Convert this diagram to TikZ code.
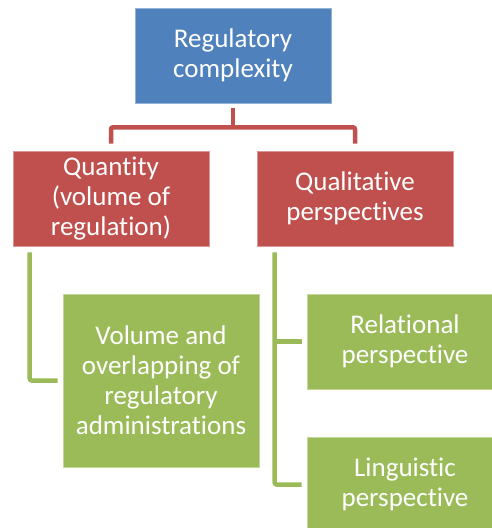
\documentclass[tikz,border=0pt]{standalone}
\usepackage{fontspec}
\setmainfont{Carlito}[Ligatures=NoCommon]
\usetikzlibrary{calc}
\definecolor{cblue}{HTML}{4F81BD}
\definecolor{cred}{HTML}{C0504D}
\definecolor{cgreen}{HTML}{9BBB59}
\tikzset{
  box/.style={rectangle, minimum width=196pt, text=white, align=center, inner sep=0pt,
    font=\fontsize{27pt}{30pt}\selectfont},
  bluebox/.style={box, fill=cblue, draw=cblue!60!white, line width=0.6pt, minimum height=95pt},
  redbox/.style={box, fill=cred, draw=cred!60!white, line width=0.6pt, minimum height=95pt},
  greenbox/.style={box, fill=cgreen, draw=cgreen!60!white, line width=0.6pt},
  redline/.style={draw=cred, line width=4.5pt, rounded corners=2pt},
  greenline/.style={draw=cgreen, line width=4.5pt, rounded corners=2pt},
}
\begin{document}
\begin{tikzpicture}[x=1pt,y=1pt]
\useasboundingbox (0,0) rectangle (492,-528);
\node[bluebox] (top) at (233,-55.5) {Regulatory\\complexity};
\node[redbox] (quant) at (111,-198.5) {Quantity\\(volume of\\regulation)};
\node[redbox] (qual) at (355,-198.5) {Qualitative\\perspectives};
\node[greenbox, minimum height=173pt] (vol) at (161,-380.5) {Volume and\\overlapping of\\regulatory\\administrations};
\node[greenbox, minimum height=95pt] (rel) at (405,-341.5) {Relational\\perspective};
\node[greenbox, minimum height=95pt] (ling) at (405,-484.5) {Linguistic\\perspective};
% red connectors
\coordinate (hub) at ($(top.south)+(0,-24pt)$);
\draw[redline] ($(top.south)+(0,-5pt)$) -- (hub);
\draw[redline] ($(quant.north)+(0,7pt)$) |- (hub) -| ($(qual.north)+(0,7pt)$);
% green connectors
\coordinate (qv) at ($(qual.south west)+(18pt,-6pt)$);
\draw[greenline] ($(quant.south west)+(17pt,-6pt)$) |- ($(vol.west)+(-5pt,0)$);
\draw[greenline] (qv) |- ($(ling.west)+(-5pt,0)$);
\draw[greenline] (rel.west -| qv) -- ($(rel.west)+(-5pt,0)$);
\end{tikzpicture}
\end{document}
